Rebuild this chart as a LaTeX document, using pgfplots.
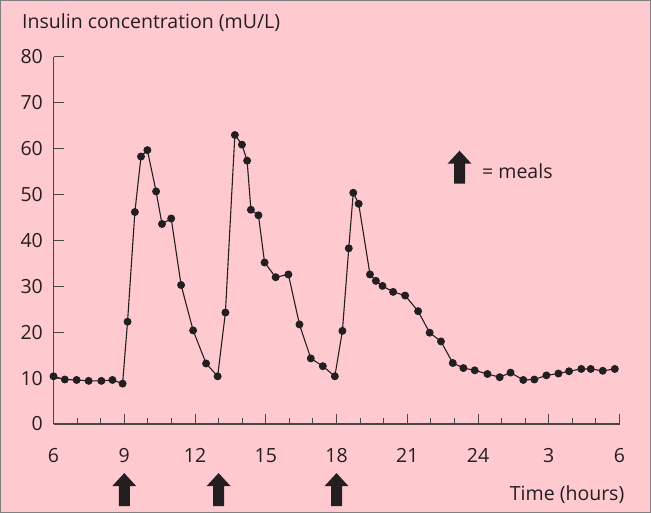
\documentclass[border=0pt]{standalone}
\usepackage{pgfplots}
\pgfplotsset{compat=1.18}
\usepackage{fontspec}
\setmainfont{Open Sans}
\definecolor{bgpink}{RGB}{255,201,208}
\definecolor{ink}{RGB}{35,31,32}
\definecolor{axgray}{RGB}{70,70,70}
\pgfplotstableread{
t v
6.00 10.4
6.48 9.7
6.98 9.6
7.49 9.4
8.03 9.4
8.50 9.6
8.93 8.8
9.14 22.3
9.45 46.2
9.71 58.3
9.98 59.7
10.35 50.7
10.60 43.6
10.99 44.8
11.41 30.3
11.92 20.4
12.47 13.2
12.96 10.4
13.29 24.3
13.69 63.0
13.99 60.9
14.21 57.4
14.37 46.7
14.69 45.5
14.95 35.2
15.42 32.0
15.96 32.6
16.43 21.7
16.91 14.3
17.42 12.6
17.93 10.4
18.25 20.3
18.52 38.3
18.71 50.4
18.94 48.0
19.42 32.6
19.67 31.2
19.95 30.1
20.40 28.8
20.91 28.0
21.46 24.6
21.95 19.9
22.43 18.0
22.93 13.3
23.38 12.2
23.86 11.7
24.40 10.9
24.92 10.2
25.38 11.2
25.92 9.6
26.39 9.7
26.90 10.6
27.41 11.0
27.86 11.5
28.38 12.0
28.78 12.0
29.29 11.6
29.80 12.0
}\insulin
\newcommand{\mealarrow}[1]{%
  \fill[ink] (#1) -- ++(12bp,-13bp) -- ++(-6.5bp,0bp) -- ++(0bp,-20bp) -- ++(-11bp,0bp) -- ++(0bp,20bp) -- ++(-6.5bp,0bp) -- cycle;}
\newcommand{\lblfont}{\fontsize{19.5bp}{23bp}\selectfont}
\begin{document}
\begin{tikzpicture}
\path[draw=gray, line width=1bp, fill=bgpink] (0.5bp,0.5bp) rectangle (650.5bp,512.5bp);
\node[anchor=base west, text=ink, font=\lblfont, inner sep=0pt] at (22bp,484bp) {Insulin concentration (mU/L)};
\node[anchor=base east, text=ink, font=\lblfont, inner sep=0pt] at (624.5bp,13bp) {Time (hours)};
\node[anchor=base west, text=ink, font=\lblfont, inner sep=0pt] at (482bp,334.7bp) {= meals};
\begin{axis}[
  at={(53.5bp,89bp)}, anchor=south west,
  scale only axis, width=566bp, height=367bp,
  xmin=6, xmax=30, ymin=0, ymax=80,
  axis lines*=left,
  axis line style={axgray, line width=1.1bp},
  every tick/.style={axgray, line width=1bp},
  tick align=inside,
  major tick length=10bp, minor tick length=6bp,
  xtick={6,9,...,30}, xticklabels={6,9,12,15,18,21,24,3,6},
  minor x tick num=2,
  ytick={0,10,...,80},
  tick label style={text=ink, font=\lblfont, inner sep=0pt},
  /pgf/number format/assume math mode=true,
  xticklabel style={anchor=base, yshift=-38bp},
  yticklabel style={anchor=east, xshift=-10.5bp},
  clip=false,
]
\addplot[ink, line width=1.1bp, mark=*, mark size=3.4pt, mark options={fill=ink, draw=ink, solid}] table[x=t, y=v] {\insulin};
\coordinate (m1) at (axis cs:9,-10.7);
\coordinate (m2) at (axis cs:13,-10.7);
\coordinate (m3) at (axis cs:18,-10.7);
\end{axis}
\mealarrow{m1}
\mealarrow{m2}
\mealarrow{m3}
\mealarrow{459.5bp,362.3bp}
\end{tikzpicture}
\end{document}
